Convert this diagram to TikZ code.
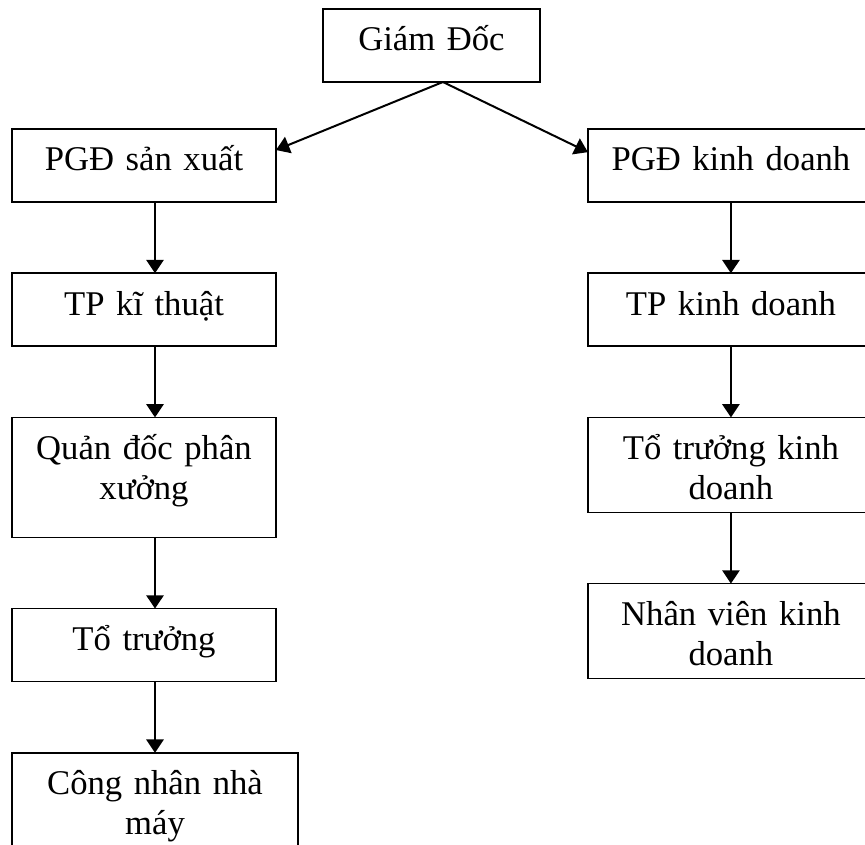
\documentclass[tikz,border=0pt]{standalone}
\usepackage{fontspec}
\setmainfont{Liberation Serif}
\usetikzlibrary{positioning,arrows.meta}
\tikzset{
    box/.style = {
        draw,
        line width=1.3pt,
        inner sep=0pt,
        outer sep=0pt,
        align=center,
        font=\fontsize{26}{30}\selectfont,
        text height=31.5pt,
        text depth=23.25pt,
        text width=198pt,
        },
    wide box/.style = {
        text width=214.5pt,
        },
    two line/.style = {
        text depth=39.75pt,
        },
    link/.style = {
        -{Triangle[length=10pt,width=13pt]},
        line width=1.5pt,
        },
}
\begin{document}
\begin{tikzpicture}[node distance=53.4pt]
            \useasboundingbox (0,0) rectangle (648.75pt,-633.75pt);

            \node [box, text width=162.75pt, anchor=north] (gd) at (323.6pt,-6.75pt) {Giám Đốc};

            % san xuat
            \node [box, below=35.25pt of gd, xshift=-215.6pt] (psx) {PGĐ sản xuất};
            \node [box, below=of psx] (tpkt) {TP kĩ thuật};
            \node [box, below=of tpkt, text depth=58.5pt] (qd) {Quản đốc phân\\xưởng};
            \node [box, below=of qd] (tt) {Tổ trưởng};
            \node [box, wide box, two line, below=of tt.south west, anchor=north west] (cn) {Công nhân nhà\\máy};

            % kinh doanh
            \node [box, wide box, below=35.25pt of gd, xshift=224.6pt] (pkd) {PGĐ kinh doanh};
            \node [box, wide box, below=of pkd] (tpkd) {TP kinh doanh};
            \node [box, wide box, two line, below=of tpkd] (ttkd) {Tổ trưởng kinh\\doanh};
            \node [box, wide box, two line, below=of ttkd] (nvkd) {Nhân viên kinh\\doanh};

            \draw[link] ([xshift=8.6pt]gd.south) -- ([yshift=11.6pt]psx.east);
            \draw[link] ([xshift=8.6pt]gd.south) -- ([yshift=10pt]pkd.west);

            \draw[link] (psx.south -| cn.north) -- (tpkt.north -| cn.north);
            \draw[link] (tpkt.south -| cn.north) -- (qd.north -| cn.north);
            \draw[link] (qd.south -| cn.north) -- (tt.north -| cn.north);
            \draw[link] (tt.south -| cn.north) -- (cn.north);

            \draw[link] (pkd.south) -- (tpkd.north);
            \draw[link] (tpkd.south) -- (ttkd.north);
            \draw[link] (ttkd.south) -- (nvkd.north);
\end{tikzpicture}
\end{document}
